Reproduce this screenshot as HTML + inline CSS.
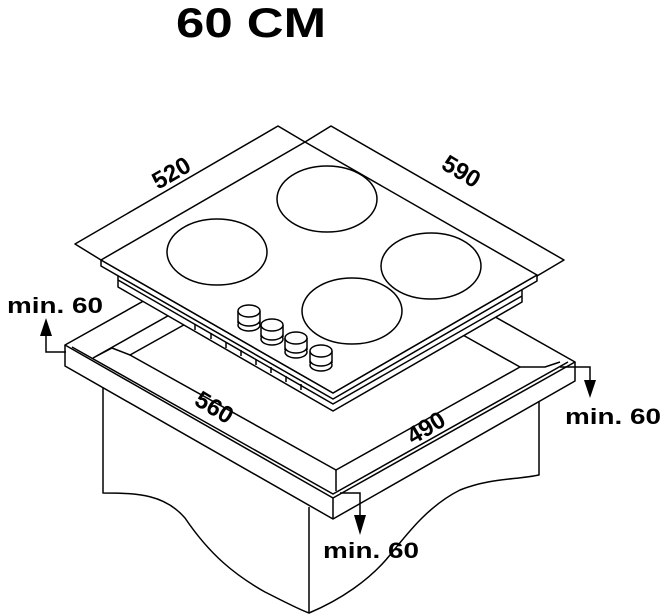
<!DOCTYPE html>
<html><head><style>
html,body{margin:0;padding:0;background:#fff;}
svg{display:block;}
text{font-family:"Liberation Sans",sans-serif;font-weight:bold;fill:#000;}
</style></head><body>
<svg width="664" height="616" viewBox="0 0 664 616" xmlns="http://www.w3.org/2000/svg">
<text x="176" y="37" font-size="42" textLength="150" lengthAdjust="spacingAndGlyphs">60 CM</text>

<g fill="none" stroke="#000" stroke-width="1.5" stroke-linejoin="round">
<!-- cabinet sides -->
<path d="M103,388 V493 C140,493 165,495 185,518 C210,555 235,575 265,592 C285,602 298,609 309,613 V507"/>
<path d="M309,613 C340,600 370,580 390,555 C410,530 430,505 460,490 C490,478 515,480 539,475 V402"/>
<!-- countertop -->
<path d="M65,345 L306,210 L575,362 L333,498 Z" fill="#fff"/>
<path d="M65,345 V366 L333,519 L575,381 V362"/>
<path d="M333,498 V519"/>
<!-- rim -->
<path d="M72,347 L333,494 L568,362"/>
<!-- strips / cutout -->
<path d="M93,358 L230,281 M93,358 L112,348 L130,355 L250,288"/>
<path d="M130,355 L336,470 L520,367 L420,311"/>
<path d="M336,470 L336,491"/>
<path d="M520,367 L545,367 L560,362"/>

<!-- dimension lines -->
<path d="M101,260 L75,244 L278,126 L305,142"/>
<path d="M305,142 L331,126 L564,260 L537,276"/>
<!-- hob body -->
<path d="M118,275 V287 L333,411 L522,302 V290 Z" fill="#fff"/>
<path d="M118,280 L333,404 L522,296"/>
<!-- hob top -->
<path d="M101,260 V266 L333,399 L537,281 V275 L333,393 Z" fill="#fff"/>
<path d="M101,260 L305,142 L537,275 L333,393 Z" fill="#fff"/>
<!-- slots -->
<path d="M195,330 l0,-6 M211,339 l0,-6 M226,348 l0,-6 M241,356 l0,-6 M256,365 l0,-6 M271,373 l0,-6 M286,382 l0,-6 M301,390 l0,-6"/>
<!-- burners -->
<ellipse cx="327" cy="199" rx="50" ry="33"/>
<ellipse cx="217" cy="252" rx="50" ry="33"/>
<ellipse cx="431" cy="266" rx="50" ry="33"/>
<ellipse cx="352" cy="311" rx="50" ry="33"/>
</g>
<!-- knobs -->
<g fill="#fff" stroke="#000" stroke-width="1.5">
<g transform="translate(249,311)"><ellipse cx="0" cy="14" rx="11" ry="6"/><rect x="-10.3" y="0" width="20.6" height="12" stroke="none"/><path d="M-11,0 V12 M11,0 V12 M-11,9 A11,6 0 0 0 11,9"/><ellipse cx="0" cy="0" rx="11" ry="6"/></g>
<g transform="translate(272,325)"><ellipse cx="0" cy="14" rx="11" ry="6"/><rect x="-10.3" y="0" width="20.6" height="12" stroke="none"/><path d="M-11,0 V12 M11,0 V12 M-11,9 A11,6 0 0 0 11,9"/><ellipse cx="0" cy="0" rx="11" ry="6"/></g>
<g transform="translate(296,338)"><ellipse cx="0" cy="14" rx="11" ry="6"/><rect x="-10.3" y="0" width="20.6" height="12" stroke="none"/><path d="M-11,0 V12 M11,0 V12 M-11,9 A11,6 0 0 0 11,9"/><ellipse cx="0" cy="0" rx="11" ry="6"/></g>
<g transform="translate(321,351)"><ellipse cx="0" cy="14" rx="11" ry="6"/><rect x="-10.3" y="0" width="20.6" height="12" stroke="none"/><path d="M-11,0 V12 M11,0 V12 M-11,9 A11,6 0 0 0 11,9"/><ellipse cx="0" cy="0" rx="11" ry="6"/></g>
</g>

<!-- arrows -->
<g fill="none" stroke="#000" stroke-width="1.5">
<path d="M66,352 H46 V334"/>
<path d="M560,367 H590 V380"/>
<path d="M340,493 H360 V515"/>
</g>
<g fill="#000">
<path d="M46,318 L40,336 L52,336 Z"/>
<path d="M590,398 L584,380 L596,380 Z"/>
<path d="M360,535 L354,515 L366,515 Z"/>
</g>

<g font-size="22">
<text x="7" y="313" textLength="96" lengthAdjust="spacingAndGlyphs">min. 60</text>
<text x="565" y="424" textLength="96" lengthAdjust="spacingAndGlyphs">min. 60</text>
<text x="323" y="558" textLength="96" lengthAdjust="spacingAndGlyphs">min. 60</text>
<text font-size="24" transform="translate(158,190) rotate(-30)">520</text>
<text font-size="24" transform="translate(440,168) rotate(31)">590</text>
<text font-size="24" transform="translate(193,404) rotate(31)">560</text>
<text font-size="24" transform="translate(413,445) rotate(-31)">490</text>
</g>
</svg>
</body></html>
